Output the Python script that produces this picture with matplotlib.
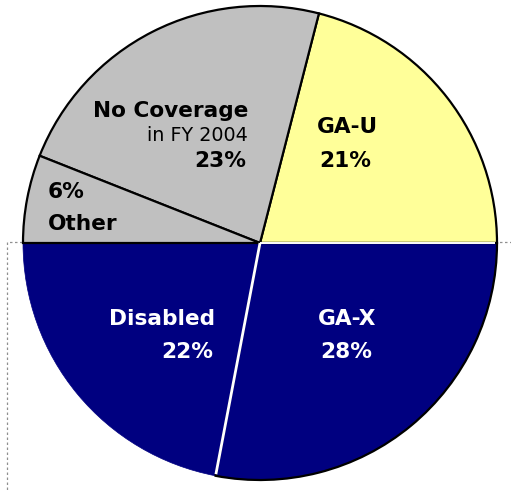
import numpy as np
import matplotlib.pyplot as plt
from matplotlib.patches import Rectangle

# slices, counter-clockwise from 3 o'clock
labels = ['GA-U', 'No Coverage', 'Other', 'Disabled', 'GA-X']
shares = [21, 23, 6, 22, 28]
colors = ['#FFFF99', '#C0C0C0', '#C0C0C0', '#000080', '#000080']

W, H = 511, 492
CX, CY, R = 260, 243, 237   # pie centre and radius in pixels


def px(x, y):
    # pixel position (from top-left) -> data coords
    return (x - CX) / R, (CY - y) / R


fig = plt.figure(figsize=(W / 100, H / 100), dpi=100)
ax = fig.add_axes([0, 0, 1, 1])

# dotted selection box behind the lower half
x0, y0 = px(7, 242)
ax.add_patch(Rectangle((x0, -2), 3, y0 + 2, fill=False, ls=(0, (2, 2)),
                       ec='#909090', lw=0.9, zorder=0))

wedges, _ = ax.pie(shares, colors=colors, startangle=0, counterclock=True,
                   radius=1, center=(0, 0), frame=True,
                   wedgeprops=dict(edgecolor='black', linewidth=1.6))
ax.set_xlim(-CX / R, (W - CX) / R)
ax.set_ylim(-(H - CY) / R, CY / R)
ax.set_aspect('auto')
ax.axis('off')
for w in wedges:
    w.set_zorder(2)
# the disabled wedge has no outline
wedges[3].set_edgecolor(colors[3])
wedges[3].set_linewidth(0.5)
wedges[3].set_zorder(1)

# white divider lines between the navy wedges and the yellow one
bounds = np.cumsum([0] + shares) / 100 * 360
for ang in (bounds[4], bounds[0]):
    a = np.deg2rad(ang)
    ax.plot([0, 0.993 * np.cos(a)], [0, 0.993 * np.sin(a)], color='white',
            lw=2 if ang == bounds[4] else 1.4, zorder=3, solid_capstyle='butt')

fam = 'DejaVu Sans'
big = 15.6


def put(x, y, s, ha, color='black', weight='bold', size=big):
    ax.text(*px(x, y), s, ha=ha, va='baseline', color=color,
            fontweight=weight, fontsize=size, family=fam, zorder=5)


put(248, 117, 'No Coverage', 'right')
put(248, 141, 'in FY 2004', 'right', weight='normal', size=13.8)
put(246, 167, '23%', 'right')
put(347, 133, 'GA-U', 'center')
put(345, 167, '21%', 'center')
put(48, 198, '6%', 'left')
put(48, 230, 'Other', 'left')
put(215, 325, 'Disabled', 'right', color='white')
put(213, 358, '22%', 'right', color='white')
put(347, 325, 'GA-X', 'center', color='white')
put(346, 358, '28%', 'center', color='white')

fig.savefig('out.png', dpi=100)
